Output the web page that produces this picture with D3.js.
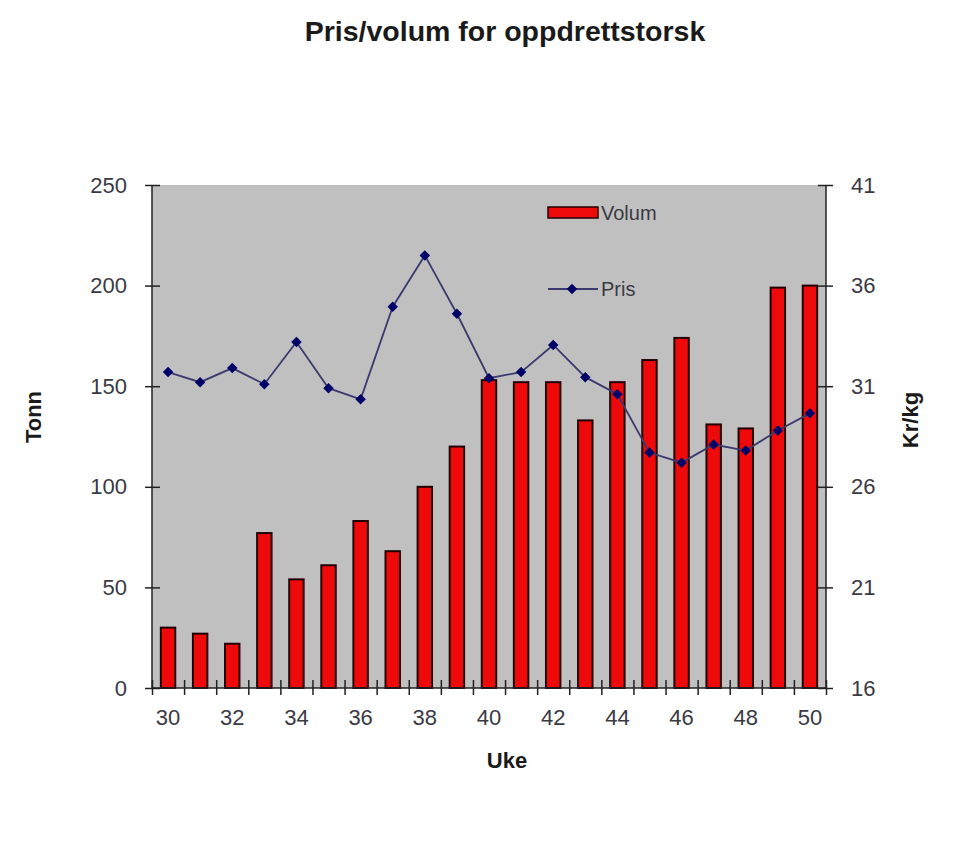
<!DOCTYPE html>
<html>
<head>
<meta charset="utf-8">
<script src="https://cdn.jsdelivr.net/npm/d3@7"></script>
<style>
  body { margin: 0; background: #fff; }
  svg { font-family: "Liberation Sans", Arial, sans-serif; }
</style>
</head>
<body>
<div id="chart"></div>
<script>
// weeks 30-50
const weeks = [30, 31, 32, 33, 34, 35, 36, 37, 38, 39, 40, 41, 42, 43, 44, 45, 46, 47, 48, 49, 50];
// tonn
const volum = [30, 27, 22, 77, 54, 61, 83, 68, 100, 120, 153, 152, 152, 133, 152, 163, 174, 131, 129, 199, 200];
// kr/kg
const pris = [31.7, 31.2, 31.9, 31.1, 33.2, 30.9, 30.35, 34.95, 37.5, 34.6, 31.4, 31.7, 33.05, 31.45, 30.6, 27.7, 27.2, 28.1, 27.8, 28.8, 29.65];
const leftTicks = [0, 50, 100, 150, 200, 250];
const rightTicks = [16, 21, 26, 31, 36, 41];
const xLabels = [30, 32, 34, 36, 38, 40, 42, 44, 46, 48, 50];

const width = 960;
const height = 850;
const margin = { top: 185, right: 134, bottom: 162, left: 152 };
const plotW = width - margin.left - margin.right;
const plotH = height - margin.top - margin.bottom;

const svg = d3.select("#chart")
    .append("svg")
    .attr("width", width)
    .attr("height", height)
    .attr("viewBox", `0 0 ${width} ${height}`);

// title
svg.append("text")
    .attr("x", 505)
    .attr("y", 41)
    .attr("text-anchor", "middle")
    .style("font-size", "28.5px")
    .style("font-weight", "bold")
    .attr("fill", "#1a1a1a")
    .text("Pris/volum for oppdrettstorsk");

const g = svg.append("g")
    .attr("transform", `translate(${margin.left},${margin.top})`);

const x = d3.scaleBand()
    .domain(weeks)
    .range([0, plotW])
    .paddingInner(0.55)
    .paddingOuter(0.275);
const y = d3.scaleLinear().domain([0, 250]).range([plotH, 0]);
const y2 = d3.scaleLinear().domain([16, 41]).range([plotH, 0]);

// plot background
g.append("rect")
    .attr("width", plotW)
    .attr("height", plotH)
    .attr("fill", "#c0c0c0");

// bars
g.selectAll(".bar")
    .data(weeks)
    .enter()
    .append("rect")
    .attr("class", "bar")
    .attr("x", d => x(d))
    .attr("y", (d, i) => y(volum[i]))
    .attr("width", x.bandwidth())
    .attr("height", (d, i) => plotH - y(volum[i]))
    .attr("fill", "#ee0a0a")
    .attr("stroke", "#220000")
    .attr("stroke-width", 2);

// price line
const cx = d => x(d) + x.bandwidth() / 2;
const line = d3.line()
    .x((d, i) => cx(weeks[i]))
    .y(d => y2(d));
g.append("path")
    .datum(pris)
    .attr("d", line)
    .attr("fill", "none")
    .attr("stroke", "#3a3a6e")
    .attr("stroke-width", 1.8);

// diamond = square turned 45 degrees
const marker = d3.symbol().type(d3.symbolSquare).size(55);
g.selectAll(".pt")
    .data(pris)
    .enter()
    .append("path")
    .attr("class", "pt")
    .attr("d", marker)
    .attr("transform", (d, i) => `translate(${cx(weeks[i])},${y2(d)}) rotate(45)`)
    .attr("fill", "#000066");

// axes
const axisColor = "#222";
const labelColor = "#3a3a44";

const leftAxis = g.append("g")
    .call(d3.axisLeft(y).tickValues(leftTicks).tickSize(7).tickPadding(18));
leftAxis.selectAll(".tick line").clone().attr("x2", 8);

const rightAxis = g.append("g")
    .attr("transform", `translate(${plotW},0)`)
    .call(d3.axisRight(y2).tickValues(rightTicks).tickSize(7).tickPadding(18));
rightAxis.selectAll(".tick line").clone().attr("x2", -8);

// x ticks sit between the bands
const xb = d3.scaleLinear().domain([0, weeks.length]).range([0, plotW]);
const bottomTicks = g.append("g")
    .attr("transform", `translate(0,${plotH})`)
    .call(d3.axisBottom(xb).ticks(weeks.length).tickSize(7).tickFormat(""));
bottomTicks.selectAll(".tick line").clone().attr("y2", -8);

const bottomLabels = g.append("g")
    .attr("transform", `translate(0,${plotH})`)
    .call(d3.axisBottom(x).tickValues(xLabels).tickSize(0).tickPadding(21));
bottomLabels.select(".domain").remove();

[leftAxis, rightAxis, bottomTicks].forEach(a => {
    a.select(".domain").attr("stroke", axisColor).attr("stroke-width", 1.5);
    a.selectAll(".tick line").attr("stroke", axisColor).attr("stroke-width", 1.5);
});
[leftAxis, rightAxis, bottomLabels].forEach(a => {
    a.selectAll("text")
        .style("font-size", "22px")
        .style("font-family", "\"Liberation Sans\", Arial, sans-serif")
        .attr("fill", labelColor);
});
leftAxis.select(".domain").attr("d", `M0,0V${plotH}`);
rightAxis.select(".domain").attr("d", `M0,0V${plotH}`);
bottomTicks.select(".domain").attr("d", `M0,0H${plotW}`);

// axis titles
svg.append("text")
    .attr("transform", "translate(41,417) rotate(-90)")
    .attr("text-anchor", "middle")
    .style("font-size", "22px")
    .style("font-weight", "bold")
    .attr("fill", "#1a1a1a")
    .text("Tonn");

svg.append("text")
    .attr("transform", "translate(918,420) rotate(-90)")
    .attr("text-anchor", "middle")
    .style("font-size", "22px")
    .style("font-weight", "bold")
    .attr("fill", "#1a1a1a")
    .text("Kr/kg");

svg.append("text")
    .attr("x", 507)
    .attr("y", 768)
    .attr("text-anchor", "middle")
    .style("font-size", "22px")
    .style("font-weight", "bold")
    .attr("fill", "#1a1a1a")
    .text("Uke");

// legend
const legend = svg.append("g");
legend.append("rect")
    .attr("x", 548)
    .attr("y", 207)
    .attr("width", 50)
    .attr("height", 11)
    .attr("fill", "#ee0a0a")
    .attr("stroke", "#220000")
    .attr("stroke-width", 1.5);
legend.append("text")
    .attr("x", 601)
    .attr("y", 220)
    .style("font-size", "20px")
    .attr("fill", labelColor)
    .text("Volum");
legend.append("line")
    .attr("x1", 548)
    .attr("x2", 598)
    .attr("y1", 289)
    .attr("y2", 289)
    .attr("stroke", "#3a3a6e")
    .attr("stroke-width", 1.8);
legend.append("path")
    .attr("d", marker)
    .attr("transform", "translate(572,289) rotate(45)")
    .attr("fill", "#000066");
legend.append("text")
    .attr("x", 601)
    .attr("y", 296)
    .style("font-size", "20px")
    .attr("fill", labelColor)
    .text("Pris");
</script>
</body>
</html>
